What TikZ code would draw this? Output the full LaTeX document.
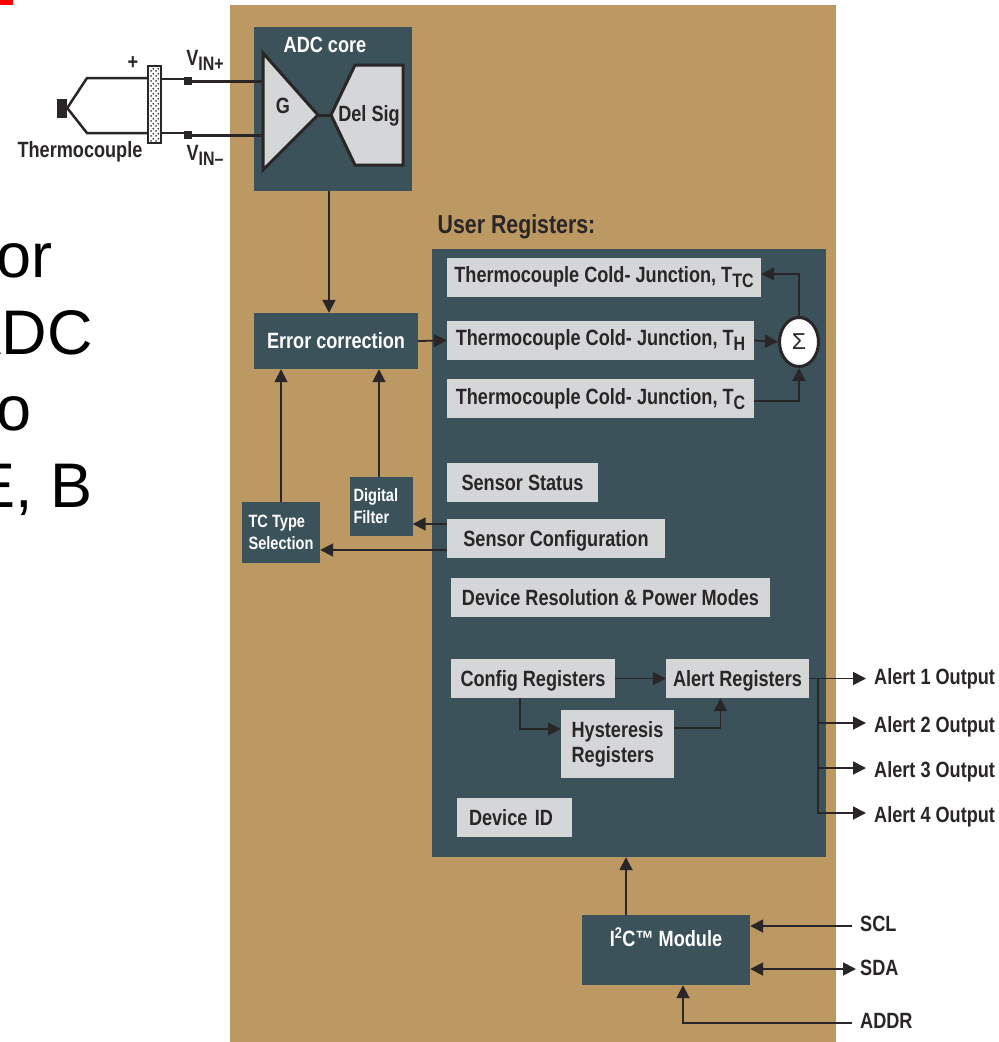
\documentclass[tikz,border=0pt]{standalone}
\usepackage{fontspec}
\setmainfont{Liberation Sans}[FakeStretch=0.82]
\newfontfamily\slidefont{Liberation Sans}
\usetikzlibrary{shapes,arrows.meta,positioning,patterns}
\definecolor{tan}{RGB}{188,152,98}
\definecolor{slate}{RGB}{60,82,90}
\definecolor{regray}{RGB}{213,214,216}
\definecolor{ink}{RGB}{42,38,40}
\newcommand{\lowsub}[1]{\raisebox{-5pt}{\fontsize{19.5}{20}\selectfont #1}}
\newcommand{\boldtext}{\fontsize{22.1}{25}\selectfont\bfseries}
\pgfdeclarepatternformonly{blockdots}{\pgfpointorigin}{\pgfqpoint{5pt}{5pt}}{\pgfqpoint{5pt}{5pt}}{
	\pgfpathcircle{\pgfqpoint{1.25pt}{1.25pt}}{1.05pt}
	\pgfpathcircle{\pgfqpoint{3.75pt}{3.75pt}}{1.05pt}
	\pgfusepath{fill}
}
\tikzset{
	regbox/.style={fill=regray, text=ink, minimum width=#1 pt, minimum height=39pt, inner sep=0pt, font=\boldtext, align=left},
	regline/.style={regbox=#1, text height=21pt, text depth=5pt},
	darkbox/.style={fill=slate, text=white, inner sep=0pt, font=\boldtext, align=left},
	inklabel/.style={text=ink, inner sep=0pt, font=\boldtext},
	pinlabel/.style={text=ink, anchor=west, inner xsep=8pt, inner ysep=0pt, font=\boldtext},
	conn/.style={draw=ink, line width=1.8pt},
	wire/.style={draw=ink, line width=3pt},
	slideline/.style={anchor=base east, inner sep=0pt, font=\slidefont\fontsize{63}{63}\selectfont}
}
\begin{document}
\begin{tikzpicture}[x=1pt, y=-1pt, >={Triangle[length=13pt,width=13pt]}]
				\useasboundingbox (0,0) rectangle (999,1042);
				\fill[red] (0,0) rectangle (13,5);
				\node[slideline] (s1) at (53,277) {or};
				\node[slideline] (s2) at (93,354) {ADC};
				\node[slideline] (s3) at (32,430) {o};
				\node[slideline] (s4) at (93,507) {E, B};
				\fill[tan] (230,5) rectangle (836,1042);
				% adc side
				\node[darkbox, minimum width=158pt, minimum height=164pt] (adc) at (333,109) {};
				\node[darkbox] (adctitle) at (325,45) {ADC core};
				\draw[fill=regray, draw=ink, line width=3pt] (263,53) -- (318,115) -- (263,170) -- cycle;
				\draw[fill=regray, draw=ink, line width=3pt] (355,65) -- (403,65) -- (403,165) -- (355,165) -- (331,115) -- cycle;
				\coordinate (gainout) at (318,115);
				\coordinate (delin) at (331,115);
				\coordinate (gainp) at (263,81);
				\coordinate (gainm) at (263,135);
				\node[inklabel] (gain) at (283,106) {G};
				\node[inklabel] (delsig) at (369,116) {Del Sig};
				\draw[wire] (gainout) -- (delin);
				% thermocouple
				\node[fill=ink, minimum width=10pt, minimum height=19pt, inner sep=0pt] (junc) at (62,108) {};
				\node[draw=ink, line width=2.5pt, preaction={fill=white}, pattern=blockdots, pattern color=ink, minimum width=13pt, minimum height=77pt, inner sep=0pt] (blk) at (154.5,104.5) {};
				\node[fill=ink, minimum size=8pt, inner sep=0pt] (vp) at (188,81) {};
				\node[fill=ink, minimum size=8pt, inner sep=0pt] (vm) at (188,135) {};
				\draw[wire, line width=2.5pt] (junc.east) -- (87,78) -- (blk.west |- 0,78);
				\draw[wire, line width=2.5pt] (junc.east) -- (87,133) -- (blk.west |- 0,133);
				\draw[wire, line width=2.5pt] (blk.east |- 0,79) -- (vp.west |- 0,79);
				\draw[wire, line width=2.5pt] (blk.east |- 0,133) -- (vm.west |- 0,133);
				\draw[wire] (vp.east) -- (gainp);
				\draw[wire] (vm.east) -- (gainm);
				\node[inklabel] (plus) at (133,63) {+};
				\node[inklabel] (tclabel) at (80,152) {Thermocouple};
				\node[inklabel] (vinp) at (205,60) {V\lowsub{IN+}};
				\node[inklabel] (vinm) at (205,155) {V\lowsub{IN--}};
				% registers
				\node[inklabel, font=\fontsize{26}{30}\selectfont\bfseries] (ureglabel) at (516.5,227) {User Registers:};
				\node[darkbox, minimum width=394pt, minimum height=608pt] (ureg) at (629,553) {};
				\node[regbox=314] (ttc) at (604,277) {Thermocouple Cold- Junction, T\lowsub{TC}};
				\node[regbox=307] (th) [below=24pt of ttc.south west, anchor=north west] {Thermocouple Cold- Junction, T\lowsub{H}};
				\node[regbox=307] (tc) [below=19pt of th.south west, anchor=north west] {Thermocouple Cold- Junction, T\lowsub{C}};
				\node[draw=ink, fill=white, line width=3pt, ellipse, minimum width=39pt, minimum height=49pt, inner sep=0pt, text=ink, font=\slidefont\fontsize{23}{23}\selectfont] (sigma) at (799,342) {Σ};
				\node[regline=151] (status) at (522.5,482) {Sensor Status};
				\node[regline=218] (sconf) at (556,538) {Sensor Configuration};
				\node[regline=319] (res) at (610.5,597.5) {Device Resolution \& Power Modes};
				\node[regline=164] (cfg) at (533,678.5) {Config Registers};
				\node[regline=143] (alert) at (737.5,678.5) {Alert Registers};
				\node[regbox=113, minimum height=68pt] (hyst) at (617.5,744) {Hysteresis\\Registers};
				\node[regline=115, text width=91pt, inner xsep=12pt] (devid) at (514.5,817.5) {Device ID};
				% left blocks
				\node[darkbox, minimum width=164pt, minimum height=56pt] (err) at (336,341) {Error correction};
				\node[darkbox, text width=55pt, inner xsep=4pt, minimum height=59pt, font=\fontsize{17.8}{22}\selectfont\bfseries] (filter) at (381,506.5) {Digital\\Filter};
				\node[darkbox, minimum width=78pt, minimum height=61pt, font=\fontsize{17.8}{22}\selectfont\bfseries] (tctype) at (281,532.5) {TC Type\\Selection};
				\node[darkbox, minimum width=168pt, minimum height=70pt] (iic) at (666,950) {\raisebox{26pt}{I\textsuperscript{2}C\texttrademark{} Module}};
				% outputs
				\node[pinlabel] (out1) at (866,678.5) {Alert 1 Output};
				\node[pinlabel] (out2) at (866,726.5) {Alert 2 Output};
				\node[pinlabel] (out3) at (866,771.5) {Alert 3 Output};
				\node[pinlabel] (out4) at (866,816.5) {Alert 4 Output};
				\coordinate (trunk) at (818,678.5);
				\node[pinlabel, inner xsep=0pt] (scl) at (860,924) {SCL};
				\node[pinlabel, inner xsep=0pt] (sda) at (860,968) {SDA};
				\node[pinlabel, inner xsep=0pt] (addr) at (860,1021) {ADDR};
				% arrows
				\draw[conn, ->] ([xshift=-4pt]adc.south) -- ([xshift=-7pt]err.north);
				\draw[conn, ->] (err.east) -- (th.west);
				\draw[conn, ->] (th.east) -- (sigma.west);
				\draw[conn, ->] ([yshift=-2pt]tc.east) -| (sigma.south);
				\draw[conn, ->] (sigma.north) |- ([yshift=3pt]ttc.east);
				\draw[conn, ->] (tctype.north) -- (tctype.north |- err.south);
				\draw[conn, ->] ([xshift=-2pt]filter.north) -- ([xshift=-2pt]filter.north |- err.south);
				\draw[conn, ->] ([yshift=14pt]sconf.west) -- ([yshift=14pt]sconf.west -| filter.east);
				\draw[conn, ->] ([yshift=-12pt]sconf.west) -- ([yshift=-12pt]sconf.west -| tctype.east);
				\draw[conn, ->] (cfg.east) -- (alert.west);
				\draw[conn, ->] ([xshift=-13pt]cfg.south) |- ([yshift=15pt]hyst.west);
				\draw[conn, ->] ([yshift=16pt]hyst.east) -| ([xshift=-17pt]alert.south);
				\draw[conn, ->] (alert.east) -- (out1.west);
				\draw[conn, ->] (trunk) |- ([yshift=3.5pt]out2.west);
				\draw[conn, ->] (trunk) |- ([yshift=3.5pt]out3.west);
				\draw[conn, ->] (trunk) |- ([yshift=3.5pt]out4.west);
				\draw[conn, ->] ([xshift=-40pt]iic.north) -- ([xshift=-40pt]iic.north |- ureg.south);
				\draw[conn, ->] ([xshift=-8pt,yshift=-2pt]scl.west) -- ([yshift=-2pt]scl.west -| iic.east);
				\draw[conn, <->] ([xshift=-4pt,yshift=-1pt]sda.west) -- ([yshift=-1pt]sda.west -| iic.east);
				\draw[conn, ->] ([xshift=-8pt,yshift=-2pt]addr.west) -| ([xshift=17pt]iic.south);
			\end{tikzpicture}
\end{document}
